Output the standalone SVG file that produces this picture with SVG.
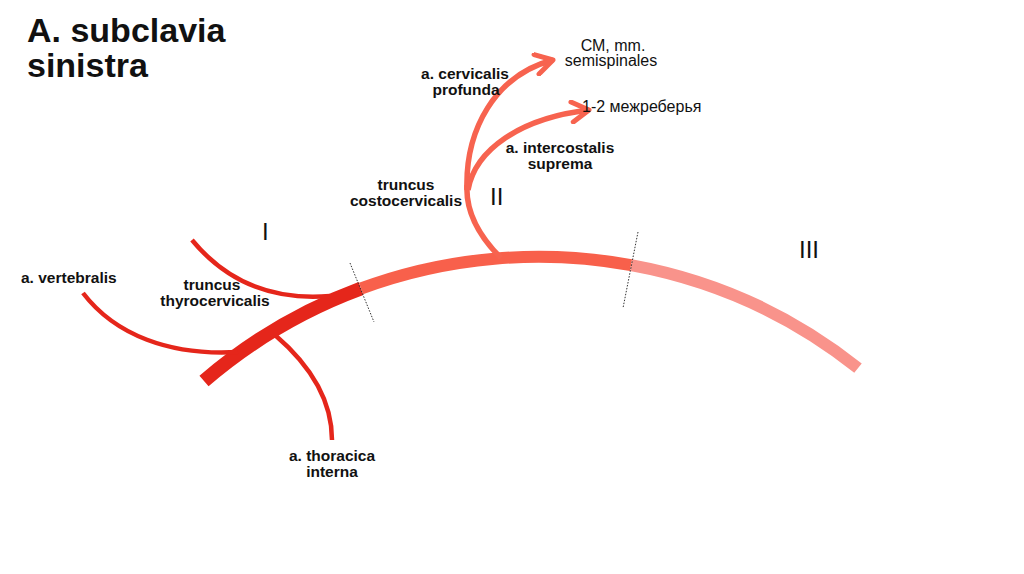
<svg xmlns="http://www.w3.org/2000/svg" width="1024" height="574" viewBox="0 0 1024 574">
<style>
text{font-family:"Liberation Sans",Arial,Helvetica,sans-serif;fill:#111}
.b{font-weight:bold;font-size:15.5px}
.n{font-size:16px}
.r{font-size:24px}
.t{font-weight:bold;font-size:34px}
.v{fill:none;stroke-linecap:butt}
.dark{stroke:#E5261B}
.mid{stroke:#F8604B}
.pink{stroke:#F9938B}
.br{fill:none;stroke:#E5261B;stroke-width:4.5}
.cc{fill:none;stroke:#F7634F;stroke-width:5.5}
.sep{stroke:#333;stroke-width:1;stroke-dasharray:1.5 1.5}
</style>
<defs>
<marker id="arr" markerUnits="userSpaceOnUse" viewBox="-20 -12 24 24" refX="0" refY="0" markerWidth="24" markerHeight="24" orient="auto">
<path d="M-17,-10 L0,0 L-17,10" fill="none" stroke="#F7634F" stroke-width="5" stroke-linecap="round" stroke-linejoin="round"/>
</marker>
</defs>
<rect width="1024" height="574" fill="#fff"/>
<g id="title"><text class="t" x="27" y="42">A. subclavia</text><text class="t" x="27" y="77">sinistra</text></g>
<g id="connectors">
<path class="v dark" stroke-width="14" d="M204,381 A513,513 0 0 1 361,288.5"/>
<path class="v mid" stroke-width="12" d="M361,288.5 A513,513 0 0 1 631,265.1"/>
<path class="v pink" stroke-width="12" d="M631,265.1 A513,513 0 0 1 858,368.1"/>
<path class="br" d="M83,293 C115,335 170,356 238,352"/>
<path class="br" d="M192,240 C225,280 270,301 330,296"/>
<path class="br" stroke-width="5" d="M275,335 C310,365 332,400 332,440"/>
<path class="cc" d="M501,258 Q465,222 467,185"/>
<path class="cc" d="M467,190 C465,130 495,75 553,60" marker-end="url(#arr)"/>
<path class="cc" d="M468,190 C475,150 520,118 589,110" marker-end="url(#arr)"/>
<line class="sep" x1="350" y1="263" x2="374" y2="322"/>
<line class="sep" x1="638" y1="232" x2="623" y2="308"/>
</g>
<g id="seg-I"><text class="r" x="262" y="240">I</text></g>
<g id="seg-II"><text class="r" x="490" y="205">II</text></g>
<g id="seg-III"><text class="r" x="799" y="258">III</text></g>
<g id="vertebralis"><text class="b" x="21" y="283">a. vertebralis</text></g>
<g id="thyrocervicalis" text-anchor="middle"><text class="b" x="212" y="290">truncus</text><text class="b" x="215" y="306">thyrocervicalis</text></g>
<g id="thoracica" text-anchor="middle"><text class="b" x="332" y="461">a. thoracica</text><text class="b" x="332" y="477">interna</text></g>
<g id="costocervicalis" text-anchor="middle"><text class="b" x="406" y="190">truncus</text><text class="b" x="406" y="206">costocervicalis</text></g>
<g id="cervicalis-profunda" text-anchor="middle"><text class="b" x="465" y="79">a. cervicalis</text><text class="b" x="466" y="95">profunda</text></g>
<g id="intercostalis-suprema" text-anchor="middle"><text class="b" x="560" y="153">a. intercostalis</text><text class="b" x="560" y="169">suprema</text></g>
<g id="cm-semispinales" text-anchor="middle"><text class="n" x="613" y="51">СМ, mm.</text><text class="n" x="611" y="66">semispinales</text></g>
<g id="mezhreberya"><text class="n" x="582" y="112">1-2 межреберья</text></g>
</svg>
